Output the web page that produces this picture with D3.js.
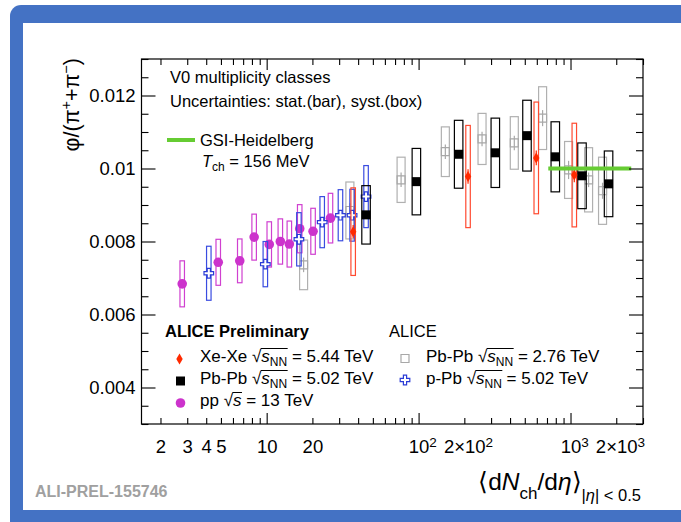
<!DOCTYPE html>
<html>
<head>
<meta charset="utf-8">
<script src="https://cdn.jsdelivr.net/npm/d3@7"></script>
<style>
body{margin:0;background:#fff;overflow:hidden;}
text{font-family:"Liberation Sans",Arial,Helvetica,sans-serif;fill:#000;}
</style>
</head>
<body>
<script>
//data

var ppX = [2.78, 4.80, 6.65, 8.27, 10.4, 12.3, 14.1, 16.5, 20.2, 26.3]
var ppY = [0.00684, 0.00743, 0.00747, 0.00812, 0.00792, 0.00800, 0.00793, 0.00835, 0.00828, 0.00864]
var ppStat = [0.0001, 0.0001, 0.0001, 0.0001, 0.0001, 0.0001, 0.0001, 0.0001, 0.0001, 0.0001]
var ppSyst = [0.00063, 0.00063, 0.00060, 0.00063, 0.00062, 0.00062, 0.00063, 0.00066, 0.00063, 0.00068]

var pPbX = [4.16, 9.8, 16.3, 23.2, 30.6, 36.5, 45.1]
var pPbY = [0.00713, 0.00738, 0.00806, 0.00853, 0.00872, 0.00872, 0.00923]
var pPbStat = [0.0001, 0.0001, 0.0001, 0.0001, 0.0001, 0.0001, 0.0001]
var pPbSyst = [0.00074, 0.00062, 0.00073, 0.00070, 0.00070, 0.00071, 0.00085]

var xeX = [37.1, 211.6, 595, 1059]
var xeY = [0.00827, 0.00978, 0.01029, 0.00982]
var xeStat = [0.00018, 0.0002, 0.0002, 0.0002]
var xeSyst = [0.00120, 0.00140, 0.00153, 0.00142]

var pb5X = [45.1, 96.7, 183.5, 319.9, 517, 794, 1190, 1780]
var pb5Y = [0.00873, 0.00964, 0.01039, 0.01043, 0.01090, 0.01032, 0.00980, 0.00958]
var pb5Stat = [0.0001, 0.0001, 0.0001, 0.0001, 0.0001, 0.0001, 0.0001, 0.0001]
var pb5Syst = [0.00080, 0.00091, 0.00093, 0.00095, 0.00097, 0.00096, 0.00090, 0.00090]

var pb276X = [17.5, 35.3, 76.7, 150, 261.6, 426.6, 655, 971, 1315, 1625]
var pb276Y = [0.00736, 0.00885, 0.00969, 0.01046, 0.01081, 0.01070, 0.01138, 0.00996, 0.00969, 0.00939]
var pb276Stat = [0.0002, 0.0002, 0.0002, 0.0002, 0.0002, 0.0002, 0.00022, 0.00025, 0.0002, 0.00022]
var pb276Syst = [0.00068, 0.00078, 0.00062, 0.00068, 0.00070, 0.00072, 0.00086, 0.00078, 0.00088, 0.00092]

var gsiX = [714, 2510]
var gsiY = 0.01

// tick labels: [base, superscript]
var xLabelTicks = [2, 3, 4, 5, 10, 20, 100, 200, 1000, 2000]
var xLabelText = [["2", ""], ["3", ""], ["4", ""], ["5", ""], ["10", ""], ["20", ""],
    ["10", "2"], ["2×10", "2"], ["10", "3"], ["2×10", "3"]]
var yLabelTicks = [0.004, 0.006, 0.008, 0.01, 0.012]
var yLabelText = ["0.004", "0.006", "0.008", "0.01", "0.012"]

//setup SVG

var w = 681
var h = 522

var svg = d3.select("body")
    .append("svg")
    .attr("width", w)
    .attr("height", h)

// blue slide frame
svg.append("rect")
    .attr("x", 10).attr("y", 5)
    .attr("width", 720).attr("height", 560)
    .attr("rx", 11)
    .attr("fill", "#4472c4")
svg.append("rect")
    .attr("x", 23).attr("y", 23)
    .attr("width", 700).attr("height", 487)
    .attr("fill", "#fff")

var x = d3.scaleLog().domain([1.5, 3000]).range([141.5, 643])
var y = d3.scaleLinear().domain([0.003, 0.013]).range([424, 59])

var xLeft = x.range()[0], xRight = x.range()[1]
var yTop = y.range()[1], yBottom = y.range()[0]

//ticks
var xMinor = []
var xMajor = [10, 100, 1000]
for (var d = 1; d <= 1000; d *= 10) {
    for (var k = 2; k <= 9; k++) {
        var v = k * d
        if (v >= 1.5 && v <= 3000) xMinor.push(v)
    }
}
var yMinor = d3.range(0.003, 0.01301, 0.0005).filter(function(v){
    return Math.abs(Math.round(v / 0.002) * 0.002 - v) > 1e-7
})

function drawAxes(){
    // bottom
    svg.append("g").attr("transform", "translate(0," + yBottom + ")")
        .call(d3.axisBottom(x).tickValues(xMinor).tickSize(-6).tickFormat(""))
    svg.append("g").attr("transform", "translate(0," + yBottom + ")")
        .call(d3.axisBottom(x).tickValues(xMajor).tickSize(-11).tickFormat(""))
    svg.append("g").attr("class", "xlab").attr("transform", "translate(0," + yBottom + ")")
        .call(d3.axisBottom(x).tickValues(xLabelTicks).tickSize(0).tickPadding(16).tickFormat(""))
    // top mirror
    svg.append("g").attr("transform", "translate(0," + yTop + ")")
        .call(d3.axisTop(x).tickValues(xMinor).tickSize(-6).tickFormat(""))
    svg.append("g").attr("transform", "translate(0," + yTop + ")")
        .call(d3.axisTop(x).tickValues(xMajor).tickSize(-11).tickFormat(""))
    // left
    svg.append("g").attr("transform", "translate(" + xLeft + ",0)")
        .call(d3.axisLeft(y).tickValues(yMinor).tickSize(-7).tickFormat(""))
    svg.append("g").attr("class", "ylab").attr("transform", "translate(" + xLeft + ",0)")
        .call(d3.axisLeft(y).tickValues(yLabelTicks).tickSize(-14).tickPadding(6)
            .tickFormat(function(d, i){ return yLabelText[i] }))
    // right mirror
    svg.append("g").attr("transform", "translate(" + xRight + ",0)")
        .call(d3.axisRight(y).tickValues(yMinor).tickSize(-7).tickFormat(""))
    svg.append("g").attr("transform", "translate(" + xRight + ",0)")
        .call(d3.axisRight(y).tickValues(yLabelTicks).tickSize(-14).tickFormat(""))

    svg.selectAll(".domain").remove()
    svg.selectAll(".tick line").attr("stroke", "#000").attr("stroke-width", 1.1)

    // x labels with real superscripts
    svg.selectAll(".xlab .tick text").each(function(d, i){
        var t = d3.select(this)
        var lab = xLabelText[i]
        t.text(null)
        t.append("tspan").text(lab[0])
        if (lab[1]) t.append("tspan").attr("dy", "-0.45em").attr("font-size", 13.5).text(lab[1])
        if (lab[1]) t.attr("dx", "0.2em")
    })
    svg.selectAll(".xlab text, .ylab text")
        .attr("font-size", 18.5)
        .attr("font-family", "Liberation Sans, Arial, sans-serif")
        .attr("fill", "#000")

    svg.append("rect")
        .attr("x", xLeft).attr("y", yTop)
        .attr("width", xRight - xLeft).attr("height", yBottom - yTop)
        .attr("fill", "none")
        .attr("stroke", "#000")
        .attr("stroke-width", 1.2)
}

//marker shapes
var shapes = {
    circle: "M4.8,0A4.8,4.8 0 1,1 -4.8,0A4.8,4.8 0 1,1 4.8,0Z",
    diamond: "M0,-5.5L3.2,0L0,5.5L-3.2,0Z",
    square: "M-4.5,-4.5H4.5V4.5H-4.5Z",
    opensquare: "M-4,-4H4V4H-4Z",
    cross: "M-1.6,-4.8H1.6V-1.6H4.8V1.6H1.6V4.8H-1.6V1.6H-4.8V-1.6H-1.6Z"
}

function drawSeries(xs, ys, stat, syst, opt){
    var pts = xs.map(function(d, i){ return {x: d, y: ys[i], st: stat[i], sy: syst[i]} })
    var g = svg.append("g").attr("class", opt.name)

    g.selectAll(".syst")
        .data(pts)
        .enter()
        .append("rect")
        .attr("class", "syst")
        .attr("x", function(d){ return x(d.x) - opt.boxW / 2 })
        .attr("y", function(d){ return y(d.y + d.sy) })
        .attr("width", opt.boxW)
        .attr("height", function(d){ return y(d.y - d.sy) - y(d.y + d.sy) })
        .attr("fill", "none")
        .attr("stroke", opt.boxColor)
        .attr("stroke-width", 1.2)

    g.selectAll(".stat")
        .data(pts)
        .enter()
        .append("line")
        .attr("class", "stat")
        .attr("x1", function(d){ return x(d.x) })
        .attr("x2", function(d){ return x(d.x) })
        .attr("y1", function(d){ return y(d.y + d.st) })
        .attr("y2", function(d){ return y(d.y - d.st) })
        .attr("stroke", opt.color)
        .attr("stroke-width", 1.2)

    g.selectAll(".mk")
        .data(pts)
        .enter()
        .append("path")
        .attr("class", "mk")
        .attr("d", shapes[opt.shape])
        .attr("transform", function(d){ return "translate(" + x(d.x) + "," + y(d.y) + ")" })
        .attr("fill", opt.fill)
        .attr("stroke", opt.stroke)
        .attr("stroke-width", opt.sw)
}

function drawMarker(px, py, opt){
    svg.append("path")
        .attr("d", shapes[opt.shape])
        .attr("transform", "translate(" + px + "," + py + ")")
        .attr("fill", opt.fill)
        .attr("stroke", opt.stroke)
        .attr("stroke-width", opt.sw)
}

var ppOpt = {name: "pp", shape: "circle", color: "#cc33cc", boxColor: "#d040d0", boxW: 4.5, fill: "#cc33cc", stroke: "none", sw: 0}
var pPbOpt = {name: "ppb", shape: "cross", color: "#2a3bd6", boxColor: "#3a4ce0", boxW: 4.5, fill: "#fff", stroke: "#2a3bd6", sw: 1.2}
var xeOpt = {name: "xe", shape: "diamond", color: "#ff2a00", boxColor: "#ff4a30", boxW: 4.5, fill: "#ff2a00", stroke: "none", sw: 0}
var pb5Opt = {name: "pb5", shape: "square", color: "#000", boxColor: "#000", boxW: 8.5, fill: "#000", stroke: "none", sw: 0}
var pb276Opt = {name: "pb276", shape: "opensquare", color: "#a8a8a8", boxColor: "#b0b0b0", boxW: 8, fill: "none", stroke: "#a8a8a8", sw: 1.2}

drawSeries(pb276X, pb276Y, pb276Stat, pb276Syst, pb276Opt)
drawSeries(ppX, ppY, ppStat, ppSyst, ppOpt)
drawSeries(pPbX, pPbY, pPbStat, pPbSyst, pPbOpt)
drawSeries(pb5X, pb5Y, pb5Stat, pb5Syst, pb5Opt)
drawSeries(xeX, xeY, xeStat, xeSyst, xeOpt)

// GSI-Heidelberg band
svg.append("line")
    .attr("x1", x(gsiX[0])).attr("x2", x(gsiX[1]))
    .attr("y1", y(gsiY)).attr("y2", y(gsiY))
    .attr("stroke", "#66cc33")
    .attr("stroke-width", 4)

drawAxes()

//texts

function addText(px, py, size, parts, anchor, weight){
    var t = svg.append("text")
        .attr("x", px).attr("y", py)
        .attr("font-size", size)
        .attr("text-anchor", anchor || "start")
        .attr("font-weight", weight || "normal")
    var shift = 0
    parts.forEach(function(p){
        var s = t.append("tspan").text(p.t)
        var want = p.dy || 0
        if (want !== shift) { s.attr("dy", want - shift); shift = want }
        if (p.it) s.attr("font-style", "italic")
        if (p.fs) s.attr("font-size", p.fs)
    })
    return t
}

addText(170, 83, 16.5, [{t: "V0 multiplicity classes"}])
addText(170, 107, 16.5, [{t: "Uncertainties: stat.(bar), syst.(box)"}])
svg.append("line")
    .attr("x1", 167).attr("x2", 195)
    .attr("y1", 140).attr("y2", 140)
    .attr("stroke", "#66cc33").attr("stroke-width", 4)
addText(200, 146, 16.5, [{t: "GSI-Heidelberg"}])
addText(202, 167, 16.5, [{t: "T", it: true}, {t: "ch", fs: 12, dy: 4}, {t: " = 156 MeV"}])

// legend
addText(165, 337, 16.5, [{t: "ALICE Preliminary"}], "start", "bold")
addText(389, 337, 16.5, [{t: "ALICE"}])

function sqrtLabel(px, py, pre, sym, sub, post){
    var parts = [{t: pre + "√"}, {t: sym, it: true}]
    if (sub) parts.push({t: sub, fs: 12, dy: 4})
    parts.push({t: post})
    var t = addText(px, py, 17, parts)
    var node = t.node()
    var i0 = pre.length
    var i1 = pre.length + sym.length + (sub ? sub.length : 0)
    var e0 = node.getExtentOfChar(i0)
    var e1 = node.getExtentOfChar(i1)
    svg.append("line")
        .attr("x1", e0.x + e0.width - 0.6).attr("x2", e1.x + e1.width + 0.5)
        .attr("y1", e0.y + 1.5).attr("y2", e0.y + 1.5)
        .attr("stroke", "#000").attr("stroke-width", 1)
}

drawMarker(179.5, 359, xeOpt)
sqrtLabel(200, 362, "Xe-Xe ", "s", "NN", " = 5.44 TeV")
drawMarker(180.5, 381, pb5Opt)
sqrtLabel(200, 384, "Pb-Pb ", "s", "NN", " = 5.02 TeV")
drawMarker(180.5, 403, ppOpt)
sqrtLabel(200, 406, "pp ", "s", "", " = 13 TeV")
drawMarker(405, 358.5, pb276Opt)
sqrtLabel(426, 362, "Pb-Pb ", "s", "NN", " = 2.76 TeV")
drawMarker(405, 380, pPbOpt)
sqrtLabel(426, 384, "p-Pb ", "s", "NN", " = 5.02 TeV")

// axis titles
svg.append("g")
    .attr("transform", "translate(79," + (yTop - 1) + ") rotate(-90)")
    .append("text")
    .attr("text-anchor", "end")
    .attr("font-size", 21.5)
    .call(function(t){
        t.append("tspan").text("φ/(π")
        t.append("tspan").attr("dy", -8).attr("font-size", 14.5).text("+")
        t.append("tspan").attr("dy", 8).text("+π")
        t.append("tspan").attr("dy", -8).attr("font-size", 14.5).text("−")
        t.append("tspan").attr("dy", 8).text(")")
    })

addText(641, 490, 24.5, [
    {t: "⟨d"}, {t: "N", it: true}, {t: "ch", fs: 17, dy: 9},
    {t: "/d"}, {t: "η", it: true}, {t: "⟩"},
    {t: "|", fs: 16.5, dy: 11}, {t: "η", fs: 16.5, dy: 11, it: true}, {t: "| < 0.5", fs: 16.5, dy: 11}
], "end")

svg.append("text")
    .attr("x", 35).attr("y", 497)
    .attr("font-family", "Liberation Mono, DejaVu Sans Mono, monospace")
    .attr("font-weight", "bold")
    .attr("font-size", 16)
    .attr("fill", "#a0a0a0")
    .style("fill", "#a0a0a0")
    .text("ALI-PREL-155746")
</script>
</body>
</html>
